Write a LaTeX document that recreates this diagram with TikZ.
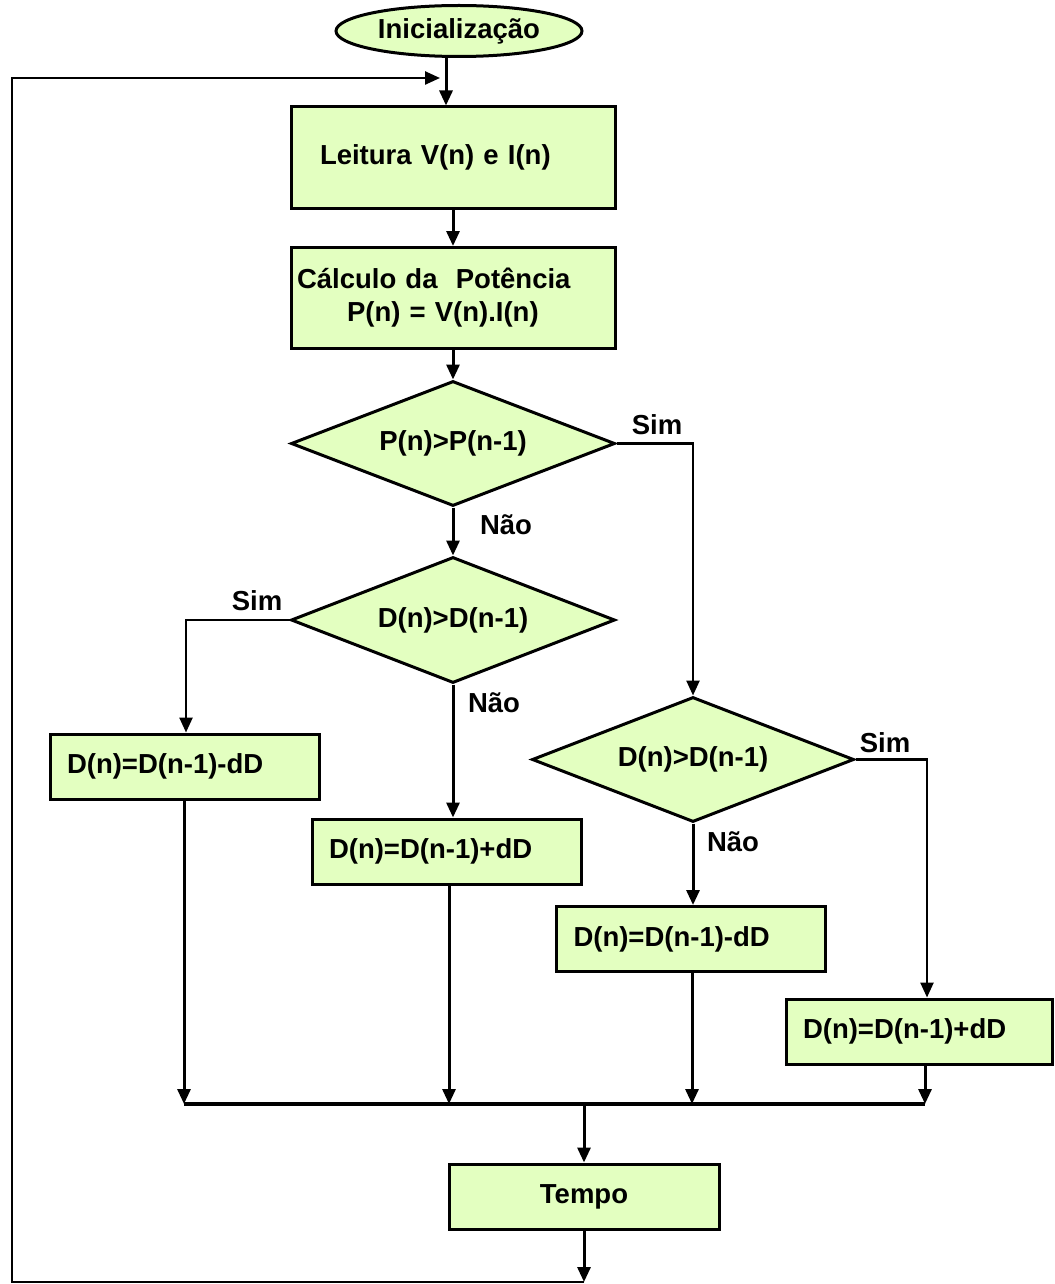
\documentclass[tikz,border=0pt]{standalone}
\usepackage{fontspec}
\setmainfont{Liberation Sans}
\usepackage{tikz}
\usetikzlibrary{arrows.meta, positioning, shapes.geometric}
\definecolor{boxgreen}{HTML}{E3FFC0}

\begin{document}
\begin{tikzpicture}[x=1pt, y=-1pt, line width=3pt, >={Stealth[length=15pt,width=13pt,inset=0pt]},
  every node/.style={font=\bfseries\fontsize{27.5}{33}\selectfont},
  procbox/.style={draw, fill=boxgreen, line width=3pt, align=left, inner ysep=0pt},
  dbox/.style={procbox, inner xsep=17pt, text width=235pt, minimum height=65pt},
  decision/.style={draw, fill=boxgreen, line width=3pt, diamond, inner sep=0pt, shape aspect=2.6},
  startnode/.style={draw, fill=boxgreen, line width=3pt, ellipse, inner sep=0pt, minimum width=246pt, minimum height=51pt},
  lbl/.style={inner sep=0pt}]
\useasboundingbox (0,0) rectangle (1054,1284);

\node (init)   [startnode]                                                       at (459,31)     {Inicialização};
\node (lei)    [procbox, inner xsep=29pt, text width=266pt, minimum height=101pt] at (453,157.5)  {Leitura V(n) e I(n)};
\node (calc)   [procbox, inner xsep=6pt, text width=312pt, minimum height=101pt]  at (453,298)    {Cálculo da\ \ Potência\\\hspace*{50pt}P(n) = V(n).I(n)};
\node (dp)     [decision, minimum width=324pt, minimum height=125pt]              at (453,443.5)  {P(n)>P(n-1)};
\node (dda)    [decision, minimum width=324pt, minimum height=126pt]              at (453,620)    {D(n)>D(n-1)};
\node (ddb)    [decision, minimum width=322pt, minimum height=125pt]              at (693,759.5)  {D(n)>D(n-1)};
\node (decA)   [dbox]                                                            at (184.5,766.5) {D(n)=D(n-1)-dD};
\node (incA)   [dbox]                                                            at (446.5,851.5) {D(n)=D(n-1)+dD};
\node (decB)   [dbox]                                                            at (691,939)    {D(n)=D(n-1)-dD};
\node (incB)   [dbox, text width=232pt]                                          at (919,1031.5) {D(n)=D(n-1)+dD};
\node (tempo)  [procbox, inner xsep=17pt, text width=236pt, align=center, minimum height=65pt] at (584,1196.5) {Tempo};

\node (simP)   [lbl] at (657,425) {Sim};
\node (naoP)   [lbl] at (506,525) {Não};
\node (simDa)  [lbl] at (257,601) {Sim};
\node (naoDa)  [lbl] at (494,703) {Não};
\node (simDb)  [lbl] at (885,743) {Sim};
\node (naoDb)  [lbl] at (733,842) {Não};

\coordinate (entry) at (446,78);
\coordinate (back)  at (12,1282);
\coordinate (mergeL) at (184,1104);
\coordinate (mergeR) at (925,1104);

% main column
\draw[->] (init.south -| entry) -- (entry |- lei.north);
\draw[->] (lei) -- (calc);
\draw[->] (calc) -- (dp);
\draw[->] (dp) -- (dda);
\draw[->, line width=2.5pt] (dp.east) -| (ddb.north);
\draw[->, line width=2.5pt] (dda.west) -| ([xshift=1.5pt]decA.north);
\draw[->] (dda.south) -- (dda.south |- incA.north);
\draw[->] (ddb.south) -- (ddb.south |- decB.north);
\draw[->, line width=2.5pt] (ddb.east) -| ([xshift=8pt]incB.north);

% merge
\draw[->] (decA.south -| mergeL) -- (mergeL);
\draw[->] ([xshift=2.5pt]incA.south) -- ([xshift=2.5pt]incA.south |- mergeL);
\draw[->] ([xshift=1pt]decB.south) -- ([xshift=1pt]decB.south |- mergeL);
\draw[->] (incB.south -| mergeR) -- (mergeR);
\draw[line width=3.5pt] (mergeL) -- (mergeR);
\draw[->] (tempo.north |- mergeL) -- (tempo.north);

% loop back
\draw[->] (tempo.south) -- (tempo.south |- back);
\draw[->, line width=2.5pt] (tempo.south |- back) -- (back) |- ([xshift=-6pt]entry);
\end{tikzpicture}
\end{document}
